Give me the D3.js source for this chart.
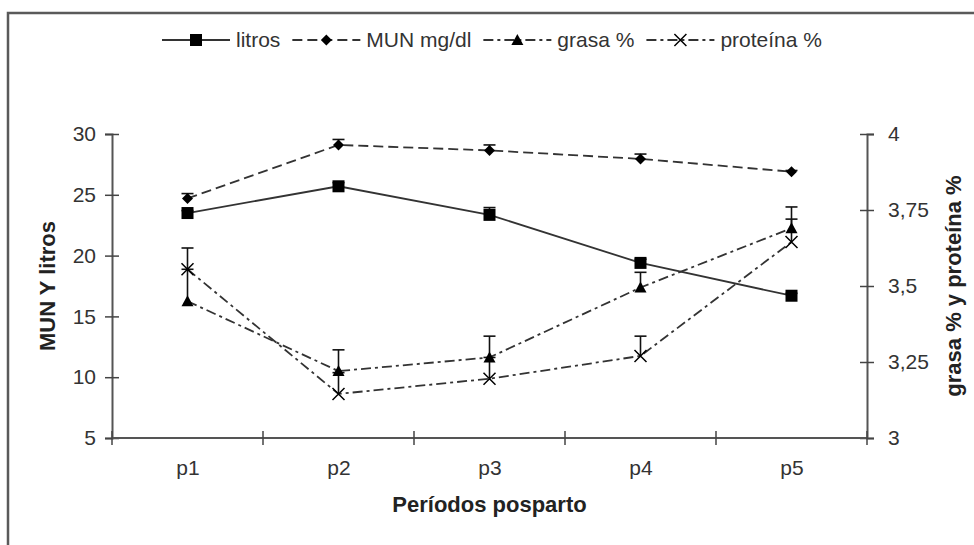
<!DOCTYPE html>
<html><head><meta charset="utf-8">
<script src="https://cdn.jsdelivr.net/npm/d3@7/dist/d3.min.js"></script>
<style>body{margin:0;background:#fff}svg{display:block}text{font-family:"Liberation Sans",Arial,sans-serif}</style>
</head><body><svg id="c" width="974" height="545"></svg>
<script>
const categories = ["p1","p2","p3","p4","p5"];
const litros = [23.5, 25.7, 23.35, 19.4, 16.7];
const litrosErr = [0.2, 0.3, 0.6, 0.3, 0.2];
const mun = [24.7, 29.1, 28.65, 27.95, 26.9];
const munErr = [0.4, 0.45, 0.45, 0.4, 0.1];
const grasa = [3.45, 3.22, 3.265, 3.495, 3.69];
const grasaErr = [0.105, 0.07, 0.07, 0.05, 0.07];
const proteina = [3.555, 3.145, 3.195, 3.27, 3.645];
const proteinaErr = [0.07, 0.07, 0.07, 0.065, 0.075];
const leftTicks = [5,10,15,20,25,30];
const rightTicks = [3,3.25,3.5,3.75,4];
const leftTitle = "MUN Y litros";
const rightTitle = "grasa % y proteína %";
const xTitle = "Períodos posparto";

const svg = d3.select("#c");
const L = 112, R = 867, T = 134, B = 438;
const ink = "#333";

svg.append("rect").attr("x",8).attr("y",13).attr("width",1000).attr("height",600)
  .attr("fill","#fff").attr("stroke","#5a5a5a").attr("stroke-width",2.5);

const xb = d3.scaleBand().domain(categories).range([L,R]);
const x = d => xb(d) + xb.bandwidth()/2;
const yL = d3.scaleLinear().domain([5,30]).range([B,T]);
const yR = d3.scaleLinear().domain([3,4]).range([B,T]);
const fmtR = d => d3.format(".2~f")(d).replace(".",",");

function crossTicks(g){ g.selectAll(".tick line").attr("x1",-7).attr("x2",7); }
const axL = svg.append("g").attr("transform",`translate(${L},0)`)
  .call(d3.axisLeft(yL).tickValues(leftTicks).tickSize(7).tickPadding(9));
const axR = svg.append("g").attr("transform",`translate(${R},0)`)
  .call(d3.axisRight(yR).tickValues(rightTicks).tickFormat(fmtR).tickSize(7).tickPadding(14));
[axL,axR].forEach(g=>{
  g.select(".domain").attr("stroke","#555").attr("stroke-width",2);
  g.selectAll(".tick line").attr("stroke","#444").attr("stroke-width",1.5);
  crossTicks(g);
  g.selectAll("text").attr("font-size",21).attr("fill",ink).attr("font-family","Liberation Sans, Arial, sans-serif");
});
// x axis
const axX = svg.append("g").attr("transform",`translate(0,${B})`)
  .call(d3.axisBottom(d3.scalePoint().domain(categories).range([x(categories[0]),x(categories[4])])).tickSize(0).tickPadding(22));
axX.select(".domain").remove();
axX.selectAll("text").attr("font-size",21).attr("fill",ink).attr("font-family","Liberation Sans, Arial, sans-serif");
svg.append("line").attr("x1",L).attr("x2",R).attr("y1",B).attr("y2",B).attr("stroke","#555").attr("stroke-width",2);
const bounds = categories.map(c=>xb(c)).concat([R]);
svg.selectAll(".xt").data(bounds).join("line").attr("x1",d=>d).attr("x2",d=>d)
  .attr("y1",B-7).attr("y2",B+7).attr("stroke","#444").attr("stroke-width",1.5);

svg.append("text").attr("x",(L+R)/2).attr("y",512).attr("text-anchor","middle")
  .attr("font-size",22).attr("font-weight","bold").attr("fill","#222").text(xTitle);
svg.append("text").attr("transform",`translate(55,${(T+B)/2}) rotate(-90)`).attr("text-anchor","middle")
  .attr("font-size",22).attr("font-weight","bold").attr("fill","#222").text(leftTitle);
svg.append("text").attr("transform",`translate(961,${(T+B)/2}) rotate(-90)`).attr("text-anchor","middle")
  .attr("font-size",22).attr("font-weight","bold").attr("fill","#222").text(rightTitle);

const series = [
  {name:"litros", v:litros, e:litrosErr, y:yL, dash:null, sym:"square"},
  {name:"MUN mg/dl", v:mun, e:munErr, y:yL, dash:"10,5", sym:"diamond"},
  {name:"grasa %", v:grasa, e:grasaErr, y:yR, dash:"10,4,3,4", sym:"triangle"},
  {name:"proteína %", v:proteina, e:proteinaErr, y:yR, dash:"10,4,3,4", sym:"x"}
];

function drawMarker(g, sym, cx, cy){
  if(sym==="square") g.append("rect").attr("x",cx-6).attr("y",cy-6).attr("width",12).attr("height",12).attr("fill","#000");
  else if(sym==="diamond") g.append("path").attr("d",`M${cx},${cy-5.5}L${cx+5.5},${cy}L${cx},${cy+5.5}L${cx-5.5},${cy}Z`).attr("fill","#000");
  else if(sym==="triangle") g.append("path").attr("d",`M${cx},${cy-6}L${cx+6},${cy+5}L${cx-6},${cy+5}Z`).attr("fill","#000");
  else g.append("path").attr("d",`M${cx-6},${cy-6}L${cx+6},${cy+6}M${cx+6},${cy-6}L${cx-6},${cy+6}`).attr("stroke","#000").attr("stroke-width",1.5).attr("fill","none");
}

const lineG = svg.append("g"), errG = svg.append("g"), mkG = svg.append("g");
series.forEach(s=>{
  const line = d3.line().x((d,i)=>x(categories[i])).y(d=>s.y(d));
  lineG.append("path").attr("d",line(s.v)).attr("fill","none").attr("stroke","#333")
    .attr("stroke-width",1.8).attr("stroke-dasharray",s.dash);
  s.v.forEach((v,i)=>{
    const cx = x(categories[i]), y0 = s.y(v), y1 = s.y(v+s.e[i]);
    errG.append("line").attr("x1",cx).attr("x2",cx).attr("y1",y0).attr("y2",y1).attr("stroke","#111").attr("stroke-width",1.6);
    errG.append("line").attr("x1",cx-6).attr("x2",cx+6).attr("y1",y1).attr("y2",y1).attr("stroke","#111").attr("stroke-width",1.6);
    drawMarker(mkG, s.sym, cx, y0);
  });
});

// legend
const lg = svg.append("g");
let lx = 162; const ly = 40;
series.forEach(s=>{
  const w = 68;
  lg.append("line").attr("x1",lx).attr("x2",lx+w).attr("y1",ly).attr("y2",ly).attr("stroke","#333")
    .attr("stroke-width",1.8).attr("stroke-dasharray",s.dash);
  drawMarker(lg, s.sym, lx+w/2, ly);
  const t = lg.append("text").attr("x",lx+w+6).attr("y",ly+7).attr("font-size",21).attr("fill",ink).text(s.name);
  lx += w + 6 + t.node().getComputedTextLength() + 12;
});
</script></body></html>
